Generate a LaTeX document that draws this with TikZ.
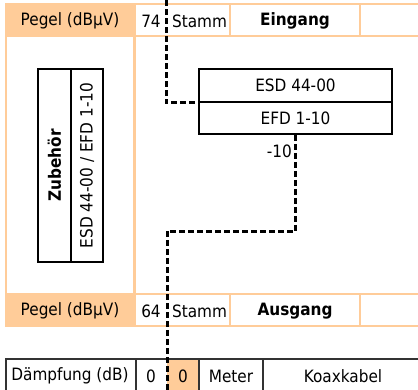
\documentclass[tikz,border=0pt]{standalone}
\usepackage{fontspec}
\setmainfont{DejaVu Sans}[FakeStretch=0.9]
\definecolor{peach}{HTML}{FFCC99}
\definecolor{darkline}{HTML}{333333}
\begin{document}
\begin{tikzpicture}[x=1pt,y=-1pt,
  every node/.style={font=\fontsize{17}{20}\selectfont, inner sep=0pt},
  peachline/.style={draw=peach, line width=2.5pt},
  gridline/.style={draw=darkline, line width=2pt},
  box/.style={draw=black, line width=1.6pt, fill=white, align=center},
  dashline/.style={draw=black, line width=3pt, dash pattern=on 6pt off 3pt}]
\useasboundingbox (0,0) rectangle (418,389);
\begin{scope}
\clip (0,0) rectangle (418,389);
% orange table
\fill[peach] (5,3) rectangle (136,37);
\fill[peach] (5,293) rectangle (136,327);
\draw[peachline] (5,4) -- (418,4);
\draw[peachline] (5,36) -- (418,36);
\draw[peachline] (5,294) -- (418,294);
\draw[peachline] (5,326) -- (418,326);
\draw[peachline] (6,3) -- (6,327);
\draw[peachline] (134.5,3) -- (134.5,327);
\draw[peachline] (230,3) -- (230,37);
\draw[peachline] (230,293) -- (230,327);
\draw[peachline] (360,3) -- (360,37);
\draw[peachline] (360,293) -- (360,327);
% bottom table
\fill[peach] (167,359.5) rectangle (199,395);
\draw[gridline] (5,358.5) -- (418,358.5);
\draw[gridline] (6,358) -- (6,395);
\draw[gridline] (135.5,358) -- (135.5,395);
\draw[gridline] (199,358) -- (199,395);
\draw[gridline] (263,358) -- (263,395);
% texts of tables
\node (pegelin) at (70,21) {Pegel (dBµV)};
\node (pin) at (151,21) {74};
\node (stin) at (199.5,21) {Stamm};
\node (eing) at (295,21) {\textbf{Eingang}};
\node (pegelout) at (70,311) {Pegel (dBµV)};
\node (pout) at (151,311) {64};
\node (stout) at (199.5,311) {Stamm};
\node (ausg) at (295,311) {\textbf{Ausgang}};
\node (daempf) at (70,376) {Dämpfung (dB)};
\node (d0) at (151,376) {0};
\node (d1) at (183,376) {0};
\node (meter) at (231,376) {Meter};
\node (koax) at (343,376) {Koaxkabel};
% accessory box
\node[box, rotate=90, minimum width=193pt, minimum height=33pt] (zub) at (54.5,165.5) {\textbf{Zubehör}};
\node[box, rotate=90, minimum width=193pt, minimum height=32pt] (zubtyp) at (87,165.5) {ESD 44-00 / EFD 1-10};
% component boxes
\node[box, minimum width=193pt, minimum height=33pt] (esd) at (295.5,85.5) {ESD 44-00};
\node[box, minimum width=193pt, minimum height=32pt] (efd) at (295.5,118) {EFD 1-10};
% dashed trunk
\coordinate (topin) at (166,0);
\coordinate (bend) at (167,231);
\coordinate (botout) at (167,395);
\draw[dashline] (topin) |- (esd.south west);
\draw[dashline] (efd.south) |- (bend) -- (botout);
\node[anchor=east] (att) at (292,151) {-10};
\end{scope}
\end{tikzpicture}
\end{document}
